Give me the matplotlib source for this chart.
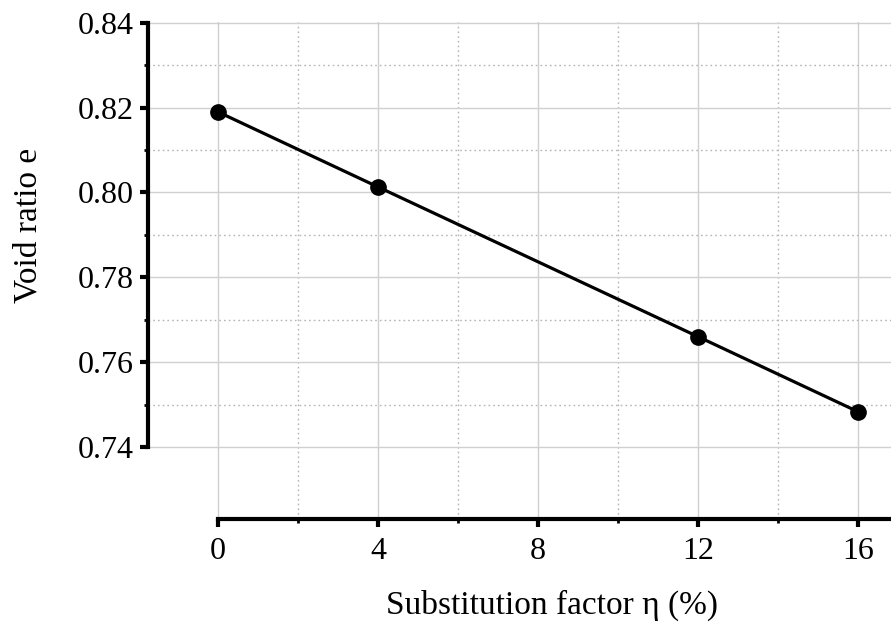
import matplotlib
matplotlib.use("Agg")
import matplotlib.pyplot as plt
from matplotlib.ticker import FixedLocator

eta = [0, 4, 12, 16]
void_ratio = [0.819, 0.8013, 0.766, 0.7483]
xticks = [0, 4, 8, 12, 16]
xminor = [2, 6, 10, 14]
yticks = [0.74, 0.76, 0.78, 0.80, 0.82, 0.84]
yminor = [0.75, 0.77, 0.79, 0.81, 0.83]

plt.rcParams['font.family'] = ['Liberation Serif', 'DejaVu Serif']
W, H = 891, 633
fig = plt.figure(figsize=(W / 100, H / 100), dpi=100)
ax = fig.add_axes([148/W, 1 - 519/H, 1 - 148/W, (519 - 22)/H])

ax.plot(eta, void_ratio, color='black', lw=2.3, marker='o', ms=11, zorder=5, clip_on=False)

ax.set_xlim(-1.75, 16.825)
ax.set_ylim(0.723, 0.8402)
ax.set_xticks(xticks)
ax.set_yticks(yticks)
ax.set_yticklabels([f"{v:.2f}" for v in yticks])
ax.xaxis.set_minor_locator(FixedLocator(xminor))
ax.yaxis.set_minor_locator(FixedLocator(yminor))

ax.grid(which='major', color='#d0d0d0', lw=1.0, ls='-')
ax.grid(which='minor', color='#b5b5b5', lw=1.0, ls=(0, (1.2, 2.2)))
ax.set_axisbelow(True)

for s in ['top', 'right']:
    ax.spines[s].set_visible(False)
ax.spines['left'].set_linewidth(3)
ax.spines['bottom'].set_linewidth(3)
ax.spines['left'].set_bounds(0.74, 0.84)
ax.spines['bottom'].set_bounds(0, 16.825)

ax.tick_params(which='major', length=6, width=3, labelsize=23)
ax.tick_params(axis='x', which='major', pad=7)
ax.tick_params(axis='y', which='major', pad=4)
ax.tick_params(which='minor', length=3, width=2)

fig.text(552/W, 1 - 605/H, 'Substitution factor η (%)', fontsize=24, ha='center', va='center')
fig.text(28/W, 1 - 225/H, 'Void ratio e', fontsize=24, ha='center', va='center', rotation=90)

fig.savefig('out.png', dpi=100)
